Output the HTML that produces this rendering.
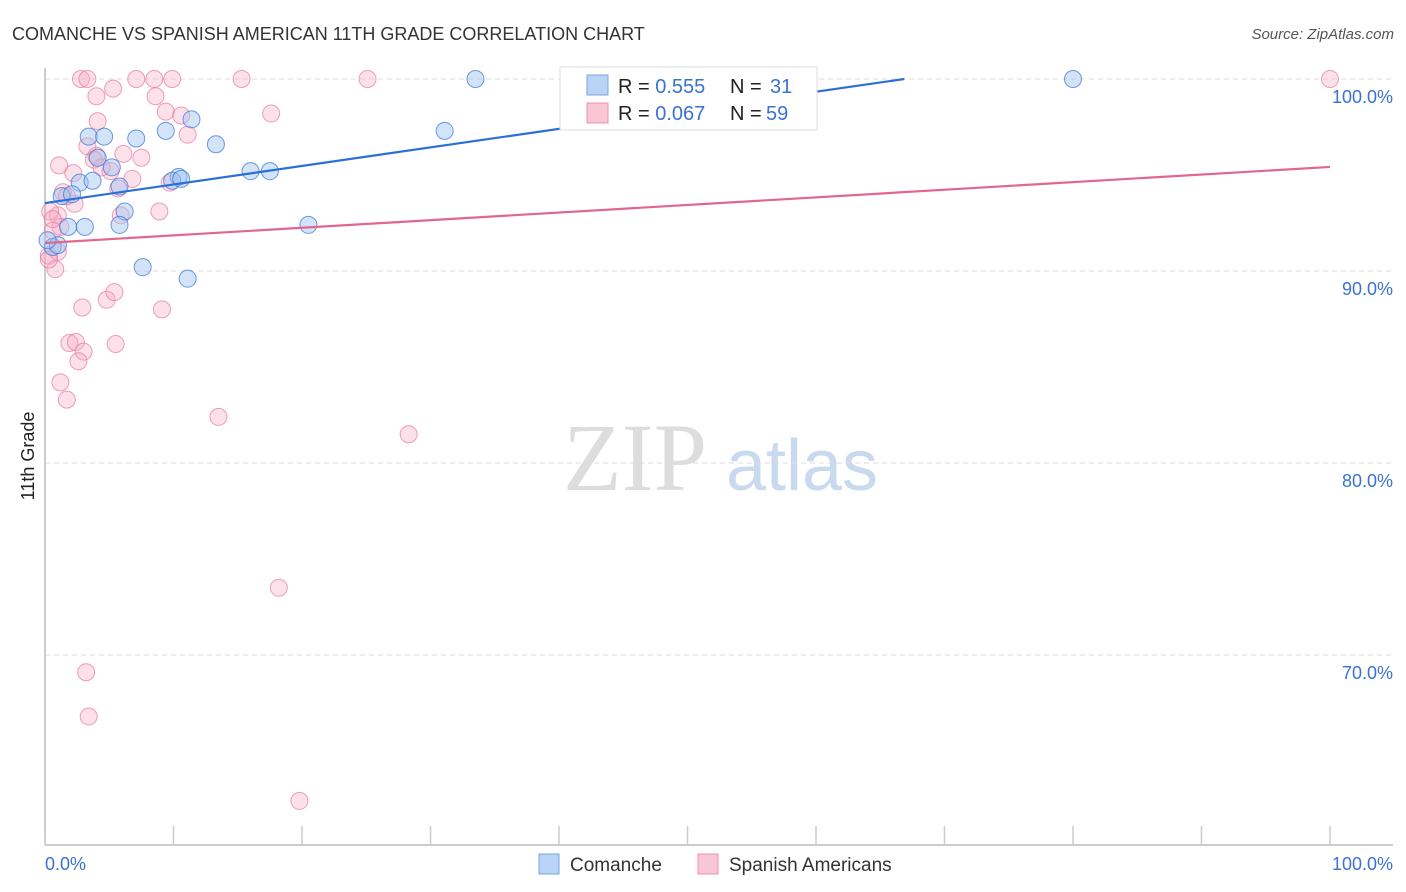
<!DOCTYPE html>
<html><head><meta charset="utf-8"><style>
body{margin:0;background:#fff;font-family:"Liberation Sans",sans-serif}
svg{display:block}
</style></head><body>
<svg id="chart" width="1406" height="892">
<text x="12" y="40" font-size="18" fill="#333">COMANCHE VS SPANISH AMERICAN 11TH GRADE CORRELATION CHART</text>
<text x="1394" y="39" font-size="15" fill="#555" font-style="italic" text-anchor="end">Source: ZipAtlas.com</text>
<text x="34" y="456" font-size="18" fill="#222" text-anchor="middle" transform="rotate(-90 34 456)">11th Grade</text>
<g><text x="635" y="490" font-size="96" font-family="Liberation Serif,serif" fill="#ddd" text-anchor="middle">ZIP</text><text x="802" y="490" font-size="72" fill="#c9d9ef" text-anchor="middle">atlas</text></g>
<g id="grid"></g><g id="axes"></g><g id="pts"></g><g id="lines"></g>
<g>
<rect x="560" y="67" width="257" height="63" fill="#fff" stroke="#ddd"/>
<rect x="587" y="75" width="21" height="20" fill="#b9d3f5" stroke="#7aa6e0"/>
<rect x="587" y="103" width="21" height="20" fill="#f9c6d5" stroke="#eb94ae"/>
<text x="618" y="93" font-size="20" fill="#222">R = <tspan fill="#3a72d0">0.555</tspan><tspan x="730">N = </tspan><tspan x="770" fill="#3a72d0">31</tspan></text>
<text x="618" y="120" font-size="20" fill="#222">R = <tspan fill="#3a72d0">0.067</tspan><tspan x="730">N = </tspan><tspan x="766" fill="#3a72d0">59</tspan></text>
</g>
<g>
<rect x="539" y="854" width="20" height="20" fill="#b9d3f5" stroke="#7aa6e0"/>
<text x="570" y="871" font-size="19" fill="#333">Comanche</text>
<rect x="698" y="854" width="20" height="20" fill="#f9c6d5" stroke="#eb94ae"/>
<text x="729" y="871" font-size="19" fill="#333">Spanish Americans</text>
</g>
</svg>
<script>
const yTicks=[100,90,80,70];
const yTickLabels=["100.0%","90.0%","80.0%","70.0%"];
const xTicks=[0,10,20,30,40,50,60,70,80,90,100];
const blueX=[1.3,3.4,4.1,4.6,5.2,2.7,3.7,7.1,9.4,11.4,13.3,16.0,17.5,10.4,9.9,10.6,6.2,5.8,3.1,1.8,20.5,7.6,11.1,31.1,33.5,80.0,0.6,1.0,0.2,2.1,5.8];
const blueY=[93.9,97.0,95.9,97.0,95.4,94.6,94.7,96.9,97.3,97.9,96.6,95.2,95.2,94.9,94.7,94.8,93.1,92.4,92.3,92.3,92.4,90.2,89.6,97.3,100,100,91.25,91.35,91.6,94.0,94.4];
const pinkX=[2.8,3.3,7.1,8.5,9.9,15.3,25.1,100,4.0,5.3,8.6,9.4,11.1,10.6,17.6,4.1,4.0,3.3,6.1,7.5,5.1,1.1,2.2,6.8,5.7,9.7,1.4,2.3,1.0,0.4,1.2,5.9,8.9,0.6,0.3,0.8,1.0,0.3,2.9,4.8,5.4,9.1,5.5,1.9,2.4,3.0,2.6,1.2,1.7,13.5,28.3,18.2,3.2,3.4,19.8,1.7,0.6,3.8,4.4];
const pinkY=[100,100,100,100,100,100,100,100,99.1,99.5,99.1,98.3,97.1,98.1,98.2,97.8,96.0,96.5,96.1,95.9,95.2,95.5,95.1,94.8,94.3,94.6,94.1,93.5,92.9,93.1,92.3,92.9,93.1,92.1,90.8,90.1,91.0,90.6,88.1,88.5,88.9,88.0,86.2,86.25,86.3,85.8,85.3,84.2,83.3,82.4,81.5,73.5,69.1,66.8,62.4,93.9,92.7,95.8,95.4];
const blueTrend=[93.54,0.0966];
const pinkTrend=[91.46,0.0396];
const NS="http://www.w3.org/2000/svg";
const X0=45,X1=1330,YB=845;
const sx=v=>X0+(X1-X0)*v/100;
const sy=v=>79+(100-v)*19.2;
function mk(tag,attrs,parent){const e=document.createElementNS(NS,tag);for(const k in attrs)e.setAttribute(k,attrs[k]);parent.appendChild(e);return e;}
const grid=document.getElementById('grid'),axes=document.getElementById('axes'),pts=document.getElementById('pts'),lines=document.getElementById('lines');
yTicks.forEach((t,i)=>{
 const l=mk('line',{x1:X0,x2:1393,y1:sy(t),y2:sy(t),stroke:'#ddd','stroke-dasharray':'5,4'},grid);
 
 
 const tx=mk('text',{x:1393,y:sy(t)+24,'font-size':18,fill:'#3a72d0','text-anchor':'end'},grid);
 tx.textContent=yTickLabels[i];
 
 
});
const ya=mk('line',{x1:X0,x2:X0,y1:68,y2:YB,stroke:'#bbb','stroke-width':1.5},axes);


const xa=mk('line',{x1:X0,x2:1393,y1:YB,y2:YB,stroke:'#bbb','stroke-width':1.5},axes);


xTicks.forEach(t=>{
 const l=mk('line',{x1:sx(t),x2:sx(t),y1:826,y2:YB,stroke:'#ccc','stroke-width':1.5},axes);
 
 
});
const xl0=mk('text',{x:45,y:870,'font-size':18,fill:'#3a72d0'},axes);xl0.textContent='0.0%';


const xl1=mk('text',{x:1393,y:870,'font-size':18,fill:'#3a72d0','text-anchor':'end'},axes);xl1.textContent='100.0%';


pinkX.forEach((x,i)=>{
 const c=mk('circle',{cx:sx(x),cy:sy(pinkY[i]),r:8.5,fill:'rgba(246,170,195,0.35)',stroke:'rgba(232,120,155,0.7)','stroke-width':1},pts);
 
 
});
blueX.forEach((x,i)=>{
 const c=mk('circle',{cx:sx(x),cy:sy(blueY[i]),r:8.5,fill:'rgba(160,195,240,0.45)',stroke:'rgba(60,120,215,0.75)','stroke-width':1},pts);
 
 
});
const bEnd=Math.min(100,(100-blueTrend[0])/blueTrend[1]);
const bl=mk('line',{x1:sx(0),y1:sy(blueTrend[0]),x2:sx(bEnd),y2:sy(blueTrend[0]+blueTrend[1]*bEnd),stroke:'#2a6fd6','stroke-width':2.2},lines);


const pl=mk('line',{x1:sx(0),y1:sy(pinkTrend[0]),x2:sx(100),y2:sy(pinkTrend[0]+pinkTrend[1]*100),stroke:'#e26690','stroke-width':2.2},lines);


</script>
</body></html>
